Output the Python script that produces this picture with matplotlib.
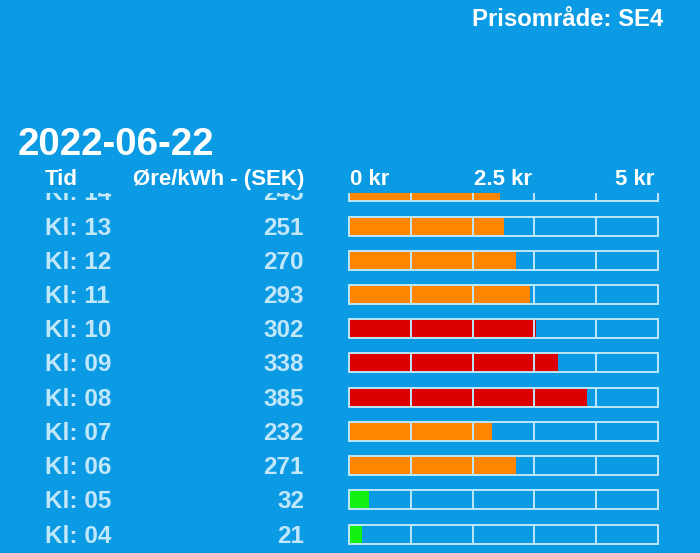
import matplotlib
matplotlib.use("Agg")
import matplotlib.pyplot as plt
from matplotlib import transforms
from matplotlib.patches import Rectangle

plt.rcParams['font.family'] = ['Liberation Sans', 'DejaVu Sans']

# ---- data ----
hours = ["14", "13", "12", "11", "10", "09", "08", "07", "06", "05", "04"]
prices_ore = [245, 251, 270, 293, 302, 338, 385, 232, 271, 32, 21]
scale_ticks = [0, 2.5, 5]
scale_labels = ["0 kr", "2.5 kr", "5 kr"]
title_text = "Prisområde: SE4"
date_text = "2022-06-22"
col_headers = ["Tid", "Øre/kWh - (SEK)"]

BG = "#0A9BE4"
FRAME = "#BDE8FA"
ROWTXT = "#C2E7FB"
RED = "#DD0000"
ORANGE = "#FF8400"
GREEN = "#11F011"

W, H = 700, 553
fig = plt.figure(figsize=(W / 100, H / 100), dpi=100, facecolor=BG)

clip_top_px = 193
ax = fig.add_axes([0, 0, 1, (H - clip_top_px) / H])
ax.set_facecolor(BG)
for s in ax.spines.values():
    s.set_visible(False)
ax.set_xticks([])
ax.set_yticks([])

# scale: 0 kr at px 349, 5 kr at px 658
x0, x5 = 349.0, 658.0
ppk = (x5 - x0) / 5.0
ax.set_xlim((0 - x0) / ppk, (W - x0) / ppk)
row_px0 = 191.8
row_step = 34.22
ax.set_ylim((H - row_px0) / row_step, (clip_top_px - row_px0) / row_step)

bar_h = 19.0 / row_step
cap_off = 8.6 / row_step
tx = transforms.blended_transform_factory(fig.transFigure, ax.transData)

def color_for(v):
    if v >= 300:
        return RED
    if v >= 100:
        return ORANGE
    return GREEN

for i, (h, v) in enumerate(zip(hours, prices_ore)):
    kr = v / 100.0
    ax.barh(i, kr, height=bar_h, left=0, color=color_for(v), zorder=2)
    ax.add_patch(Rectangle((0, i - bar_h / 2), 5, bar_h, fill=False,
                           edgecolor=FRAME, lw=1.4, zorder=3))
    for d in [1, 2, 3, 4]:
        ax.plot([d, d], [i - bar_h / 2, i + bar_h / 2], color=FRAME,
                lw=1.4, zorder=3, solid_capstyle='butt')
    ax.text(45 / W, i + cap_off, f"Kl: {h}", transform=tx, color=ROWTXT,
            fontsize=17.5, fontweight='bold', ha='left', va='baseline',
            clip_on=True)
    ax.text(304 / W, i + cap_off, f"{v}", transform=tx, color=ROWTXT,
            fontsize=17.5, fontweight='bold', ha='right', va='baseline',
            clip_on=True)

def fy(px):
    return 1 - px / H

fig.text(663 / W, fy(26), title_text, color='white', fontsize=17.2,
         fontweight='bold', ha='right', va='baseline')
fig.text(18 / W, fy(155), date_text, color='white', fontsize=27.7,
         fontweight='bold', ha='left', va='baseline')
fig.text(45 / W, fy(185), col_headers[0], color='white', fontsize=16,
         fontweight='bold', ha='left', va='baseline')
fig.text(304 / W, fy(185), col_headers[1], color='white', fontsize=16,
         fontweight='bold', ha='right', va='baseline')
aligns = ['left', 'center', 'right']
offs = [1, 0, -4]
for t, lab, al, o in zip(scale_ticks, scale_labels, aligns, offs):
    fig.text((x0 + t * ppk + o) / W, fy(185), lab, color='white',
             fontsize=16, fontweight='bold', ha=al, va='baseline')

fig.savefig("out.png", dpi=100, facecolor=BG)
